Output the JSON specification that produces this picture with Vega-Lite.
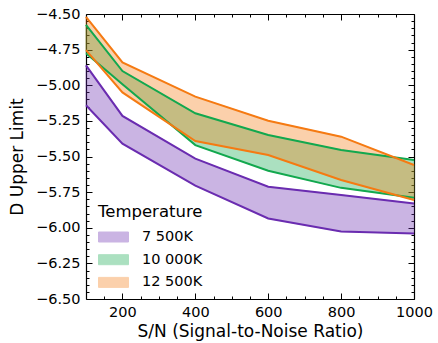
{
  "$schema": "https://vega.github.io/schema/vega-lite/v6.json",
  "width": 328,
  "height": 285,
  "autosize": {"type": "none"},
  "padding": {"left": 86, "top": 14, "right": 24, "bottom": 44},
  "background": "white",
  "config": {
    "view": {"stroke": null},
    "font": "DejaVu Sans",
    "axis": {
      "grid": false,
      "labelFont": "DejaVu Sans",
      "labelFontSize": 14.5,
      "labelColor": "black",
      "labelFlush": false,
      "labelOverlap": false,
      "titleFont": "DejaVu Sans",
      "titleFontSize": 17,
      "titleFontWeight": "normal",
      "titleColor": "black",
      "domainColor": "black",
      "domainWidth": 1.2,
      "tickColor": "black",
      "tickWidth": 1
    },
    "legend": {
      "titleFont": "DejaVu Sans",
      "titleFontSize": 16.5,
      "titleFontWeight": "normal",
      "titleColor": "black",
      "labelFont": "DejaVu Sans",
      "labelFontSize": 14.5,
      "labelColor": "black"
    }
  },
  "data": {
    "values": [
      {"T": "7 500K", "sn": 100, "lo": -5.14, "hi": -4.86},
      {"T": "7 500K", "sn": 200, "lo": -5.41, "hi": -5.215},
      {"T": "7 500K", "sn": 400, "lo": -5.705, "hi": -5.515},
      {"T": "7 500K", "sn": 600, "lo": -5.935, "hi": -5.712},
      {"T": "7 500K", "sn": 800, "lo": -6.027, "hi": -5.77},
      {"T": "7 500K", "sn": 1000, "lo": -6.04, "hi": -5.83},
      {"T": "10 000K", "sn": 100, "lo": -4.776, "hi": -4.577},
      {"T": "10 000K", "sn": 200, "lo": -4.993, "hi": -4.9},
      {"T": "10 000K", "sn": 400, "lo": -5.42, "hi": -5.197},
      {"T": "10 000K", "sn": 600, "lo": -5.6, "hi": -5.349},
      {"T": "10 000K", "sn": 800, "lo": -5.72, "hi": -5.454},
      {"T": "10 000K", "sn": 1000, "lo": -5.79, "hi": -5.525},
      {"T": "12 500K", "sn": 100, "lo": -4.753, "hi": -4.52},
      {"T": "12 500K", "sn": 200, "lo": -5.05, "hi": -4.84},
      {"T": "12 500K", "sn": 400, "lo": -5.391, "hi": -5.08},
      {"T": "12 500K", "sn": 600, "lo": -5.49, "hi": -5.249},
      {"T": "12 500K", "sn": 800, "lo": -5.665, "hi": -5.361},
      {"T": "12 500K", "sn": 1000, "lo": -5.805, "hi": -5.56}
    ]
  },
  "resolve": {
    "scale": {"x": "shared", "y": "shared", "color": "shared"},
    "axis": {"x": "independent", "y": "independent"}
  },
  "layer": [
    {
      "mark": {"type": "area", "opacity": 0.35, "strokeWidth": 1},
      "encoding": {
        "x": {"field": "sn", "type": "quantitative",
          "scale": {"domain": [100, 1000], "nice": false, "zero": false},
          "axis": {"orient": "bottom", "values": [200, 400, 600, 800, 1000], "format": "d", "tickSize": -6, "labelPadding": 12, "title": "S/N (Signal-to-Noise Ratio)", "titlePadding": 5}},
        "y": {"field": "hi", "type": "quantitative",
          "scale": {"domain": [-6.5, -4.5], "nice": false, "zero": false},
          "axis": {"orient": "left", "values": [-6.5, -6.25, -6, -5.75, -5.5, -5.25, -5, -4.75, -4.5], "format": ".2f", "tickSize": -6, "labelPadding": 12, "title": "D Upper Limit", "titlePadding": 9}},
        "y2": {"field": "lo"},
        "color": {"field": "T", "type": "nominal",
          "sort": ["7 500K", "10 000K", "12 500K"],
          "scale": {"domain": ["7 500K", "10 000K", "12 500K"], "range": ["#6a2cb0", "#12a84e", "#f57a12"]},
          "legend": {"title": "Temperature", "orient": "none", "legendX": 12, "legendY": 190,
            "symbolType": "M-1,-0.5H2V0.5H-1Z", "symbolSize": 400, "symbolOpacity": 0.35,
            "symbolStrokeWidth": 1, "rowPadding": 4.7, "labelOffset": 23, "titlePadding": 6, "padding": 0}},
        "stroke": {"field": "T", "type": "nominal",
          "sort": ["7 500K", "10 000K", "12 500K"],
          "scale": {"domain": ["7 500K", "10 000K", "12 500K"], "range": ["#6a2cb0", "#12a84e", "#f57a12"]},
          "legend": {"title": "Temperature", "orient": "none", "legendX": 12, "legendY": 190,
            "symbolType": "M-1,-0.5H2V0.5H-1Z", "symbolSize": 400, "symbolOpacity": 0.35,
            "symbolStrokeWidth": 1, "rowPadding": 4.7, "labelOffset": 23, "titlePadding": 6, "padding": 0}}
      }
    },
    {
      "mark": {"type": "line", "strokeWidth": 2},
      "encoding": {
        "x": {"field": "sn", "type": "quantitative",
          "axis": {"orient": "bottom", "values": [150, 250, 300, 350, 450, 500, 550, 650, 700, 750, 850, 900, 950], "tickSize": -3, "labels": false, "domain": false, "title": null}},
        "y": {"field": "hi", "type": "quantitative",
          "axis": {"orient": "left", "values": [-6.45, -6.4, -6.35, -6.3, -6.2, -6.15, -6.1, -6.05, -5.95, -5.9, -5.85, -5.8, -5.7, -5.65, -5.6, -5.55, -5.45, -5.4, -5.35, -5.3, -5.2, -5.15, -5.1, -5.05, -4.95, -4.9, -4.85, -4.8, -4.7, -4.65, -4.6, -4.55], "tickSize": -3, "labels": false, "domain": false, "title": null}},
        "color": {"field": "T", "type": "nominal", "legend": null}
      }
    },
    {
      "mark": {"type": "line", "strokeWidth": 2},
      "encoding": {
        "x": {"field": "sn", "type": "quantitative",
          "axis": {"orient": "top", "values": [200, 400, 600, 800, 1000], "tickSize": -6, "labels": false, "title": null}},
        "y": {"field": "lo", "type": "quantitative",
          "axis": {"orient": "right", "values": [-6.5, -6.25, -6, -5.75, -5.5, -5.25, -5, -4.75, -4.5], "tickSize": -6, "labels": false, "title": null}},
        "color": {"field": "T", "type": "nominal", "legend": null}
      }
    },
    {
      "mark": {"type": "point", "opacity": 0},
      "encoding": {
        "x": {"field": "sn", "type": "quantitative",
          "axis": {"orient": "top", "values": [150, 250, 300, 350, 450, 500, 550, 650, 700, 750, 850, 900, 950], "tickSize": -3, "labels": false, "domain": false, "title": null}},
        "y": {"field": "lo", "type": "quantitative",
          "axis": {"orient": "right", "values": [-6.45, -6.4, -6.35, -6.3, -6.2, -6.15, -6.1, -6.05, -5.95, -5.9, -5.85, -5.8, -5.7, -5.65, -5.6, -5.55, -5.45, -5.4, -5.35, -5.3, -5.2, -5.15, -5.1, -5.05, -4.95, -4.9, -4.85, -4.8, -4.7, -4.65, -4.6, -4.55], "tickSize": -3, "labels": false, "domain": false, "title": null}}
      }
    }
  ]
}
